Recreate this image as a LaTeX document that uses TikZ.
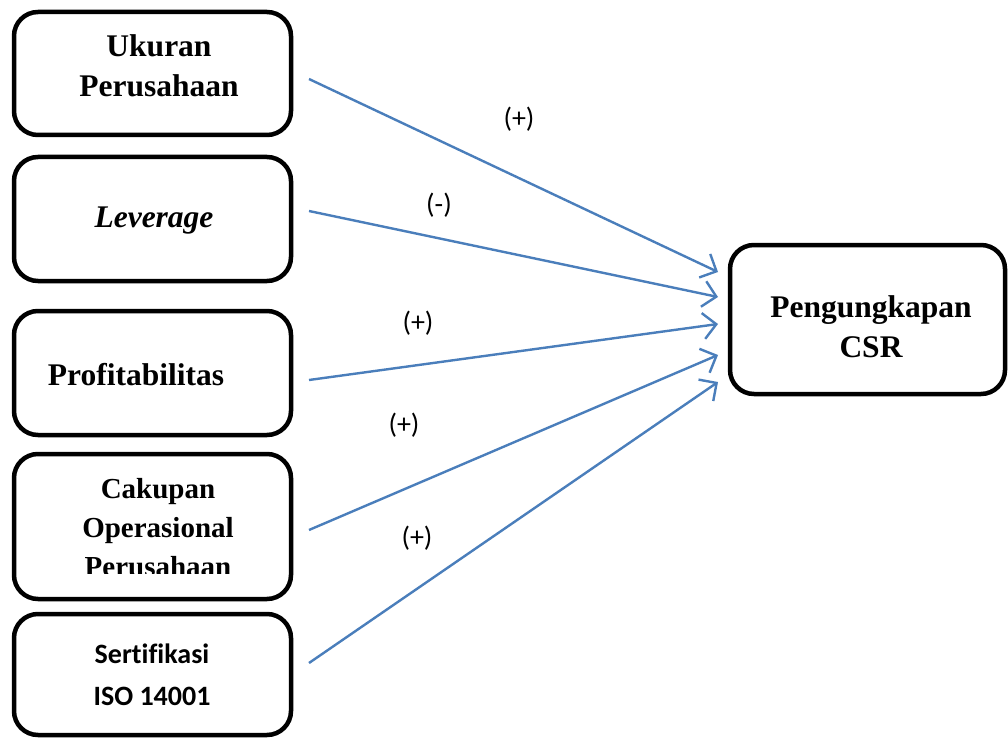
\documentclass[tikz,border=0pt]{standalone}
\usepackage{fontspec}
\setmainfont{Liberation Serif}
\newfontfamily\calibrifont[Ligatures=NoCommon]{Carlito}
\usetikzlibrary{arrows.meta}
\definecolor{arrblue}{RGB}{74,126,187}
\begin{document}
\begin{tikzpicture}[x=1pt,y=-1pt,
  box/.style={draw=black, line width=4.5pt, rounded corners=24pt, inner sep=0pt, outer sep=0pt},
  tnr/.style={font=\fontsize{31.5}{40}\selectfont\bfseries, align=center, anchor=base, inner sep=0pt},
  tnrs/.style={font=\fontsize{29}{39}\selectfont\bfseries, align=center, anchor=base, inner sep=0pt},
  cal/.style={font=\calibrifont\fontsize{28}{42}\selectfont\bfseries, align=center, anchor=base, inner sep=0pt},
  sign/.style={font=\calibrifont\fontsize{28}{32}\selectfont, inner sep=0pt},
  arr/.style={draw=arrblue, line width=2.4pt, -{Straight Barb[length=13pt,width=26pt]}}]
\useasboundingbox (0,0) rectangle (1008,738);
% boxes
\node[box, minimum width=277pt, minimum height=123pt] (b1) at (152.5,73.5) {};
\node[box, minimum width=277pt, minimum height=124pt] (b2) at (152.5,219) {};
\node[box, minimum width=277pt, minimum height=124pt] (b3) at (152.5,373) {};
\node[box, minimum width=277pt, minimum height=145pt] (b4) at (152.5,526.5) {};
\node[box, minimum width=277pt, minimum height=121pt] (b5) at (152.5,674.5) {};
\node[box, minimum width=275pt, minimum height=149pt] (csr) at (867.5,319.5) {};
% texts (base anchor = last line's baseline)
\node[tnr] (t1) at (159,97) {Ukuran\\Perusahaan};
\node[tnr] (t2) at (154,227) {\itshape Leverage};
\node[tnr] (t3) at (136,385) {Profitabilitas};
\begin{scope}
  \clip (20,450) rectangle (290,573);
  \node[tnrs] (t4) at (158,576) {Cakupan\\Operasional\\Perusahaan};
\end{scope}
\node[cal] (t5) at (152,705) {Sertifikasi\\ISO 14001};
\node[tnr] (tc) at (871,357) {Pengungkapan\\CSR};
% arrows
\draw[arr] ([xshift=18pt,yshift=-5.5pt]b1.east) -- ([xshift=-12pt,yshift=47.5pt]csr.west);
\draw[arr] ([xshift=18pt,yshift=8pt]b2.east) -- ([xshift=-12pt,yshift=22.5pt]csr.west);
\draw[arr] ([xshift=18pt,yshift=-7pt]b3.east) -- ([xshift=-12pt,yshift=-4.5pt]csr.west);
\draw[arr] ([xshift=18pt,yshift=-3.5pt]b4.east) -- ([xshift=-12pt,yshift=-35.5pt]csr.west);
\draw[arr] ([xshift=18pt,yshift=11.5pt]b5.east) -- ([xshift=-12pt,yshift=-62.5pt]csr.west);
% signs
\node[sign] (s1) at (519,119) {(+)};
\node[sign] (s2) at (439,205) {(-)};
\node[sign] (s3) at (418,323) {(+)};
\node[sign] (s4) at (404,425) {(+)};
\node[sign] (s5) at (417,538) {(+)};
\end{tikzpicture}
\end{document}
